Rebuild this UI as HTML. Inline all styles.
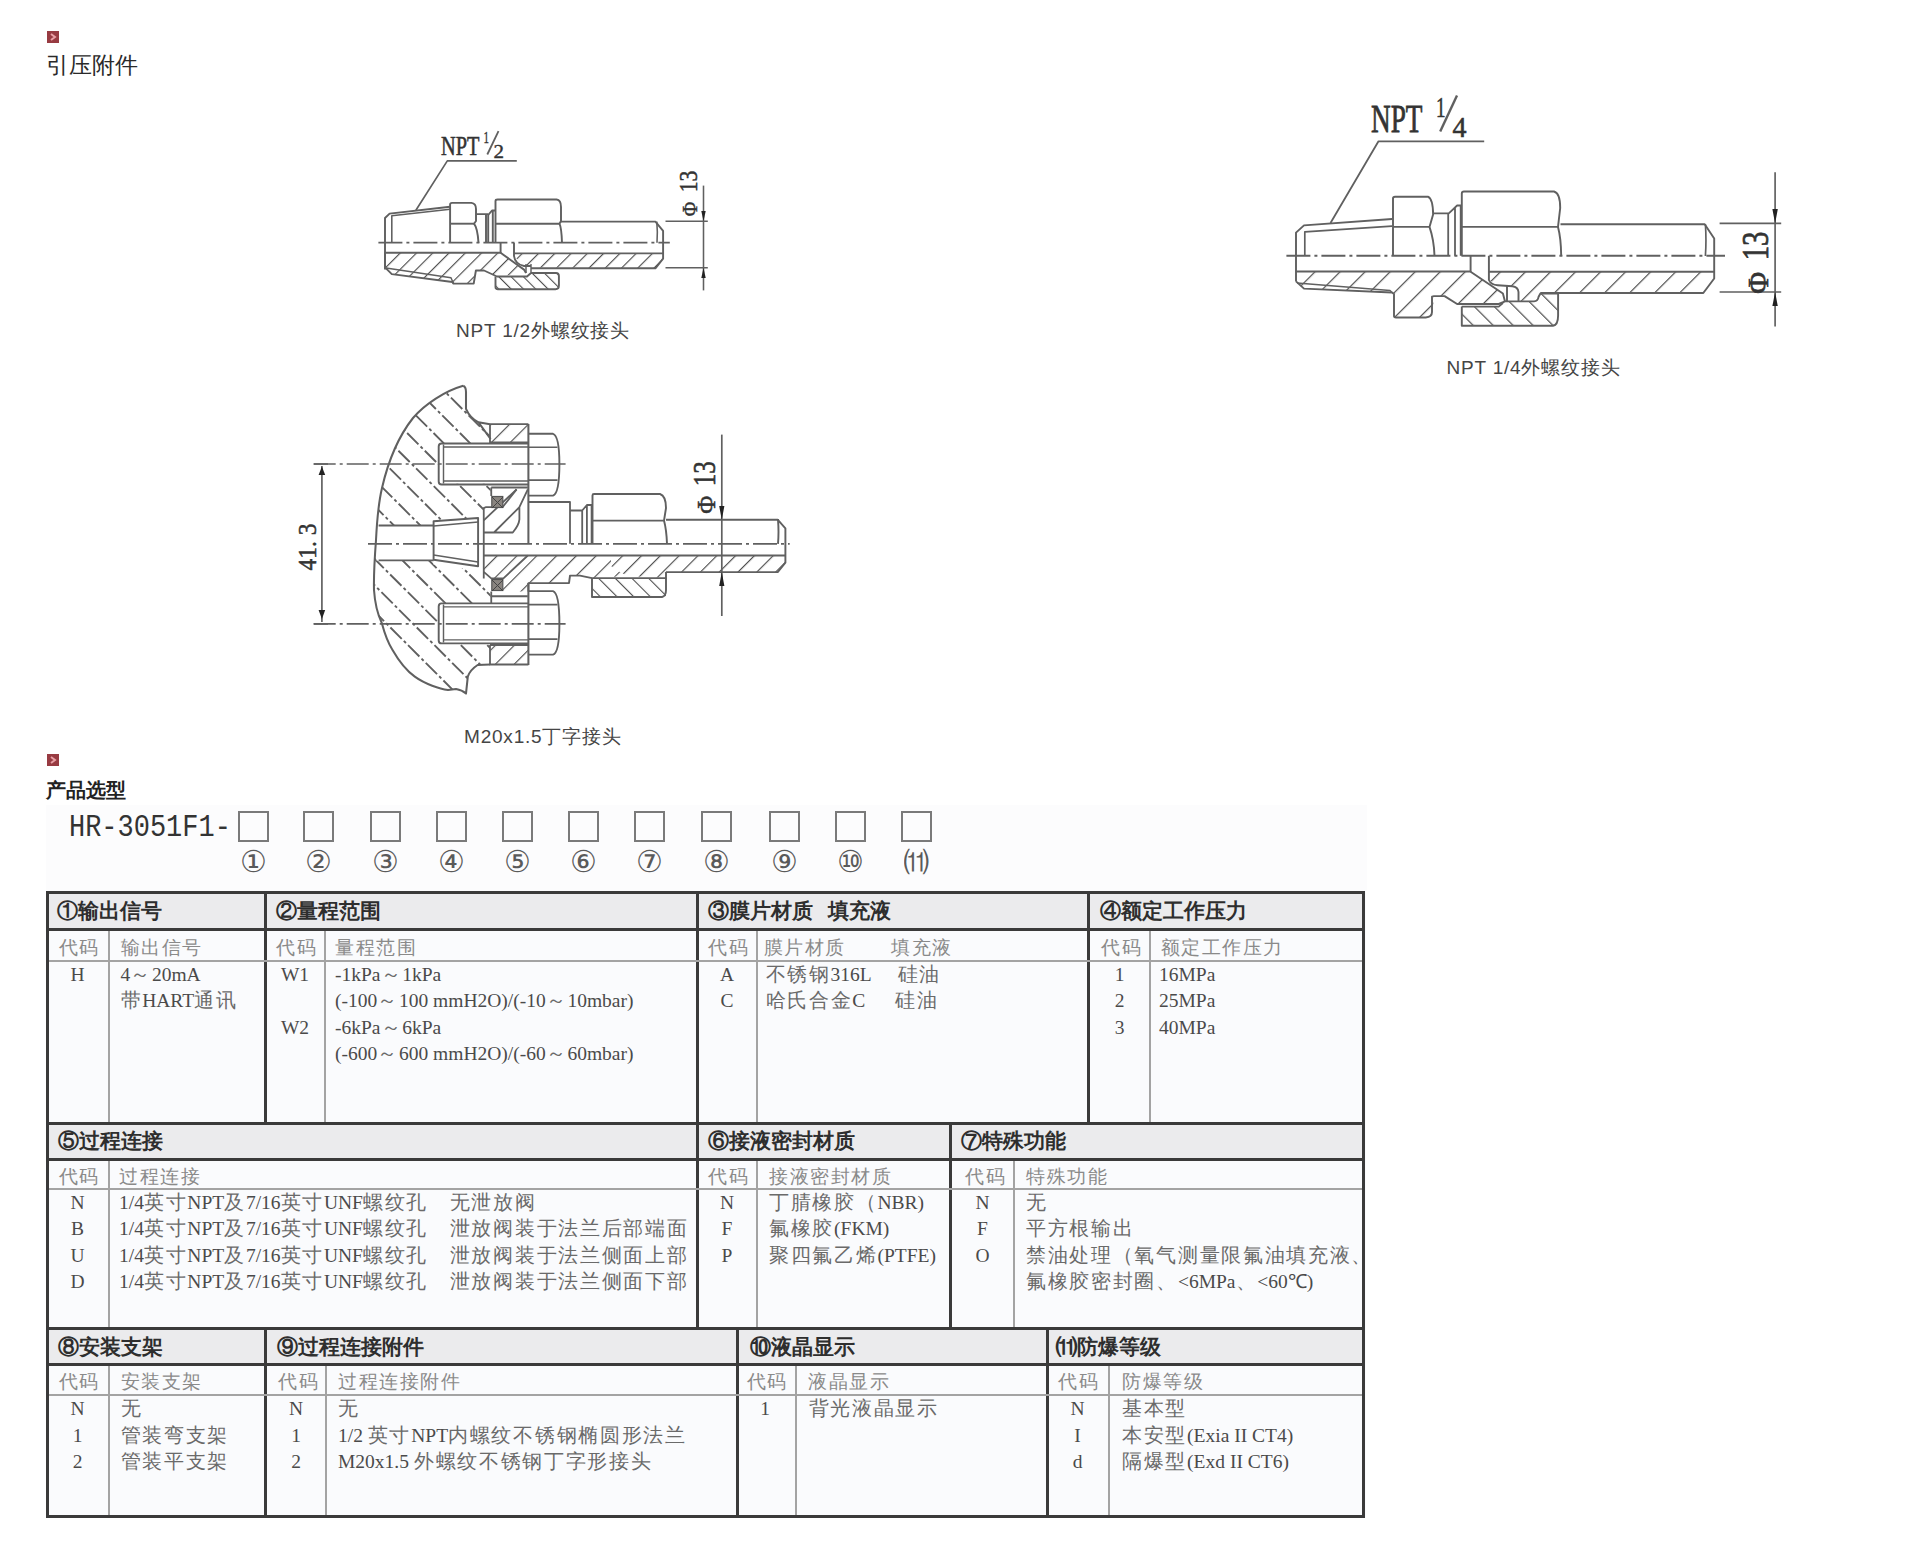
<!DOCTYPE html>
<html><head><meta charset="utf-8"><title>引压附件 产品选型</title><style>
html,body{margin:0;padding:0;background:#fff;}
#pg{position:relative;width:1920px;height:1561px;overflow:hidden;background:#fff;font-family:"Liberation Sans",sans-serif;}
.a{position:absolute;white-space:nowrap;height:0;}
.a>span,.a{}
.c{width:200px;text-align:center;}
.tk{position:absolute;background:#3a3a3a;}
.tn{position:absolute;background:#a3a3a3;}
.hb{position:absolute;background:#ebebed;}
.H{font-family:"Liberation Sans",sans-serif;font-size:20.6px;line-height:0;color:#2e2e2e;font-weight:bold;letter-spacing:0px;}
.S{font-family:"Liberation Serif",serif;font-size:18.5px;line-height:0;color:#8a8a8a;letter-spacing:1.5px;}
.D{font-family:"Liberation Serif",serif;font-size:19.5px;line-height:0;color:#4a4a4a;letter-spacing:0px;}
.cj{letter-spacing:1.7px;color:#6a6a6a;}
.K{font-family:"Liberation Serif",serif;font-size:19.5px;line-height:0;color:#4a4a4a;}
.cap{font-family:"Liberation Sans",sans-serif;font-size:19px;line-height:0;color:#454545;letter-spacing:0.8px;}
.t1{font-family:"Liberation Sans",sans-serif;font-size:22.5px;line-height:0;color:#2a2a2a;}
.t2{font-family:"Liberation Sans",sans-serif;font-size:20px;line-height:0;color:#222;font-weight:bold;}
.hr{font-family:"Liberation Mono",monospace;font-size:31px;line-height:0;color:#333;transform:scaleX(0.87);transform-origin:0 0;}
.box{position:absolute;width:27px;height:27px;border:2px solid #7a7a7a;}
.cn{font-family:"Liberation Serif",serif;font-size:30px;line-height:0;color:#5a5a5a;}
.ic{position:absolute;width:12px;height:12px;background:#983b42;}
</style></head>
<body><div id="pg">
<svg style="position:absolute;left:0;top:0" width="1920" height="1561" viewBox="0 0 1920 1561">
<defs>
<pattern id="h1a" patternUnits="userSpaceOnUse" width="11.5" height="11.5" patternTransform="rotate(45) translate(1.35,0)"><line x1="0" y1="-1" x2="0" y2="12.5" stroke="#4c4c4c" stroke-width="2.28"/></pattern>
<pattern id="h1c" patternUnits="userSpaceOnUse" width="11.5" height="11.5" patternTransform="rotate(45) translate(7.47,0)"><line x1="0" y1="-1" x2="0" y2="12.5" stroke="#4c4c4c" stroke-width="2.28"/></pattern>
<pattern id="h1b" patternUnits="userSpaceOnUse" width="8.7" height="8.7" patternTransform="rotate(-45) translate(8.6,0)"><line x1="0" y1="-1" x2="0" y2="9.7" stroke="#4c4c4c" stroke-width="2.16"/></pattern>
<pattern id="h2a" patternUnits="userSpaceOnUse" width="17.7" height="17.7" patternTransform="rotate(45) translate(13.6,0)"><line x1="0" y1="-1" x2="0" y2="18.7" stroke="#4c4c4c" stroke-width="2.40"/></pattern>
<pattern id="h2b" patternUnits="userSpaceOnUse" width="14.1" height="14.1" patternTransform="rotate(-45) translate(7.3,0)"><line x1="0" y1="-1" x2="0" y2="15.1" stroke="#4c4c4c" stroke-width="2.40"/></pattern>
<pattern id="h2c" patternUnits="userSpaceOnUse" width="17.7" height="17.7" patternTransform="rotate(45) translate(6.35,0)"><line x1="0" y1="-1" x2="0" y2="18.7" stroke="#4c4c4c" stroke-width="2.40"/></pattern>
<pattern id="h3a" patternUnits="userSpaceOnUse" width="13.3" height="13.3" patternTransform="rotate(45) translate(8.1,0)"><line x1="0" y1="-1" x2="0" y2="14.3" stroke="#4c4c4c" stroke-width="2.28"/></pattern>
<pattern id="h3c" patternUnits="userSpaceOnUse" width="14.0" height="14.0" patternTransform="rotate(45) translate(2.0,0)"><line x1="0" y1="-1" x2="0" y2="15.0" stroke="#4c4c4c" stroke-width="2.28"/></pattern>
<pattern id="h3b" patternUnits="userSpaceOnUse" width="11.8" height="11.8" patternTransform="rotate(-45) translate(2,0)"><line x1="0" y1="-1" x2="0" y2="12.8" stroke="#4c4c4c" stroke-width="2.16"/></pattern>
<pattern id="h3f" patternUnits="userSpaceOnUse" width="12.5" height="12.5" patternTransform="rotate(-45) translate(0,0)"><line x1="0" y1="-1" x2="0" y2="13.5" stroke="#4c4c4c" stroke-width="1.80"/></pattern>
</defs>
<path d="M516.8,160.9 H447.3 L415.9,210.2" fill="none" stroke="#606060" stroke-width="1.68" stroke-linejoin="round" />
<text x="441" y="154.7" font-family="Liberation Serif, serif" font-size="26.3" fill="#333" stroke="#333" stroke-width="0.53" text-anchor="start" textLength="38.5" lengthAdjust="spacingAndGlyphs" >NPT</text>
<text x="483.5" y="143" font-family="Liberation Serif, serif" font-size="16" fill="#333" stroke="#333" stroke-width="0.32" text-anchor="start" textLength="5.5" lengthAdjust="spacingAndGlyphs" >1</text>
<path d="M487.3,154.5 L498.5,131.2" fill="none" stroke="#606060" stroke-width="1.7999999999999998" stroke-linejoin="round" />
<text x="493.5" y="157.5" font-family="Liberation Serif, serif" font-size="19.5" fill="#333" stroke="#333" stroke-width="0.39" text-anchor="start" textLength="10.5" lengthAdjust="spacingAndGlyphs" >2</text>
<polygon points="385,252.8 500.6,252.8 524,269.6 526,273 497,276.5 484,270.5 475.9,270.5 473.7,283.6 453.5,283.6 452.4,282 391.8,274.1 385,267.4" fill="url(#h1a)" stroke="none"/>
<polygon points="514,253.4 663.1,253.4 663.1,258.7 655.4,268.3 531,267.6 524,266 514,256" fill="url(#h1c)" stroke="none"/>
<polygon points="497,276.5 527,276.5 531,273 558.9,273 558.9,289.2 495.5,289.2 495.5,276.5" fill="url(#h1b)" stroke="none"/>
<path d="M385,269.6 V218 L389.6,213.6 L450.1,206.8" fill="none" stroke="#606060" stroke-width="1.92" stroke-linejoin="round" />
<path d="M391.8,242.7 V215.8 L450.1,209.2" fill="none" stroke="#606060" stroke-width="1.56" stroke-linejoin="round" />
<path d="M450.1,242.7 V204.6 Q450.1,202.9 452,202.9 H471.4 Q476,203.5 476,209 V221 L474,223.7 Q477.5,228 478.5,242.7" fill="none" stroke="#606060" stroke-width="1.92" stroke-linejoin="round" />
<path d="M450.1,223.7 H474" fill="none" stroke="#606060" stroke-width="1.92" stroke-linejoin="round" />
<path d="M476.5,214.1 H488.2 M486,214.1 V242.7 M488.2,214.1 V242.7" fill="none" stroke="#606060" stroke-width="1.92" stroke-linejoin="round" />
<path d="M488.2,215 L492,210.5 H495.5 M492.8,211 V242.7" fill="none" stroke="#606060" stroke-width="1.92" stroke-linejoin="round" />
<path d="M495.5,242.7 V201 Q495.5,199.5 497.5,199.5 H556.6 Q561,200 561,207 V221 L559.5,223.7 Q561.5,228 562,242.7" fill="none" stroke="#606060" stroke-width="1.92" stroke-linejoin="round" />
<path d="M495.5,223.7 H559.5" fill="none" stroke="#606060" stroke-width="1.92" stroke-linejoin="round" />
<path d="M561,221.6 H655.4 L663.1,230.8 V258.7 L655.4,268.3 H531" fill="none" stroke="#606060" stroke-width="1.92" stroke-linejoin="round" />
<path d="M656.8,221.6 Q657.8,232 657,242.7" fill="none" stroke="#606060" stroke-width="1.56" stroke-linejoin="round" />
<path d="M385,252.8 H500.6 V242.7" fill="none" stroke="#606060" stroke-width="1.92" stroke-linejoin="round" />
<path d="M514,242.7 V256 Q515,264 524,266 H531" fill="none" stroke="#606060" stroke-width="1.92" stroke-linejoin="round" />
<path d="M514,253.4 H663.1" fill="none" stroke="#606060" stroke-width="1.92" stroke-linejoin="round" />
<path d="M500.6,252.8 L524,269.6 L526,273" fill="none" stroke="#606060" stroke-width="1.92" stroke-linejoin="round" />
<path d="M385,252.8 V267.4 L391.8,274.1 L452.4,282 L453.5,283.6 H473.7 L475.9,270.5 H484 L497,276.5 H527 L531,273" fill="none" stroke="#606060" stroke-width="1.92" stroke-linejoin="round" />
<path d="M386,268 L451,277.8 L453.5,283.6" fill="none" stroke="#606060" stroke-width="1.44" stroke-linejoin="round" />
<path d="M495.5,276.5 V287 Q495.5,289.2 498,289.2 H555.5 Q558.9,289.2 558.9,285.5 V276 Q558.9,273 556,273 H531" fill="none" stroke="#606060" stroke-width="1.92" stroke-linejoin="round" />
<path d="M526,264 V273 M531,264 V273" fill="none" stroke="#606060" stroke-width="1.44" stroke-linejoin="round" />
<path d="M378.4,242.7 H669.8" fill="none" stroke="#606060" stroke-width="1.7999999999999998" stroke-linejoin="round" stroke-dasharray="24 4 3 4"/>
<path d="M665.5,221.2 H707.8 M665.5,267.8 H707.8" fill="none" stroke="#606060" stroke-width="1.56" stroke-linejoin="round" />
<path d="M703.5,185.6 V290.4" fill="none" stroke="#606060" stroke-width="1.56" stroke-linejoin="round" />
<polygon points="701.3,211 705.7,211 703.5,221.2" fill="#222"/>
<polygon points="701.3,278 705.7,278 703.5,267.8" fill="#222"/>
<g transform="translate(697.2,216.3) rotate(-90)">
<text x="0" y="0" font-family="Liberation Serif, serif" font-size="20.8" fill="#333" stroke="#333" stroke-width="0.42" text-anchor="start" textLength="14.4" lengthAdjust="spacingAndGlyphs" >Φ</text>
</g>
<g transform="translate(697.2,192.3) rotate(-90)">
<text x="0" y="0" font-family="Liberation Serif, serif" font-size="26" fill="#333" stroke="#333" stroke-width="0.52" text-anchor="start" textLength="21.6" lengthAdjust="spacingAndGlyphs" >13</text>
</g>
<path d="M1484.2,141.3 H1378.5 L1330.5,223" fill="none" stroke="#606060" stroke-width="1.7999999999999998" stroke-linejoin="round" />
<text x="1371" y="131.6" font-family="Liberation Serif, serif" font-size="40" fill="#333" stroke="#333" stroke-width="0.80" text-anchor="start" textLength="51.5" lengthAdjust="spacingAndGlyphs" >NPT</text>
<text x="1436" y="117.2" font-family="Liberation Serif, serif" font-size="29" fill="#333" stroke="#333" stroke-width="0.58" text-anchor="start" textLength="9.5" lengthAdjust="spacingAndGlyphs" >1</text>
<path d="M1440.2,131.6 L1457,95.6" fill="none" stroke="#606060" stroke-width="2.4" stroke-linejoin="round" />
<text x="1452.5" y="136.5" font-family="Liberation Serif, serif" font-size="29" fill="#333" stroke="#333" stroke-width="0.58" text-anchor="start" textLength="14" lengthAdjust="spacingAndGlyphs" >4</text>
<polygon points="1296,271.5 1470.6,271.7 1502.9,293.5 1505,304.5 1457.1,304 1444.6,296.1 1434,296.1 1432,317.5 1394,317.5 1394,294 1392,292.5 1304,288.6 1296,281.4" fill="url(#h2c)" stroke="none"/>
<polygon points="1489,271.7 1714.2,271.7 1714.2,278.5 1703.3,293 1540,293 1534,301.4 1518.5,301.4 1512,286 1497.7,285.2 1489,280" fill="url(#h2a)" stroke="none"/>
<polygon points="1461.8,306.6 1498.75,306.6 1505,301.4 1534,301.4 1540.4,293.5 1558.1,293.5 1558.1,325.8 1461.8,325.8" fill="url(#h2b)" stroke="none"/>
<path d="M1296,281.4 V232.6 L1304,225.4 L1392.1,219" fill="none" stroke="#606060" stroke-width="1.92" stroke-linejoin="round" />
<path d="M1304.8,255.8 V231.8 L1392.1,226.2" fill="none" stroke="#606060" stroke-width="1.68" stroke-linejoin="round" />
<path d="M1393,255.8 V198.5 Q1393,196.7 1395,196.7 H1427.9 Q1433,199 1433.1,214.4 L1429.5,226.9 Q1434,240 1434.5,255.8" fill="none" stroke="#606060" stroke-width="1.92" stroke-linejoin="round" />
<path d="M1393,226.9 H1429.5" fill="none" stroke="#606060" stroke-width="1.92" stroke-linejoin="round" />
<path d="M1433.5,213.3 H1448.8 L1457.1,205.5 H1461.8 M1448.2,213.3 V255.8 M1455,207 V255.8 M1460.7,205.5 V255.8" fill="none" stroke="#606060" stroke-width="1.7999999999999998" stroke-linejoin="round" />
<path d="M1461.8,255.8 V193.5 Q1461.8,191.5 1464,191.5 H1554 Q1560.2,193 1560.2,208 L1558,226.9 Q1561,238 1561.2,255.8" fill="none" stroke="#606060" stroke-width="1.92" stroke-linejoin="round" />
<path d="M1461.8,226.9 H1558" fill="none" stroke="#606060" stroke-width="1.92" stroke-linejoin="round" />
<path d="M1560.5,224.3 H1704.7 L1714.2,238.5 V278.5 L1703.3,293 H1540.4" fill="none" stroke="#606060" stroke-width="1.92" stroke-linejoin="round" />
<path d="M1705.4,224.3 Q1706.5,240 1705.4,256" fill="none" stroke="#606060" stroke-width="1.68" stroke-linejoin="round" />
<path d="M1296,271.5 H1470.6 V255.8" fill="none" stroke="#606060" stroke-width="1.92" stroke-linejoin="round" />
<path d="M1488.9,255.8 V280 Q1491,285 1497.7,285.2 L1512.3,286.25 Q1518,287 1518.5,292 V301.4" fill="none" stroke="#606060" stroke-width="1.92" stroke-linejoin="round" />
<path d="M1489,271.7 H1714.2" fill="none" stroke="#606060" stroke-width="1.92" stroke-linejoin="round" />
<path d="M1470.6,271.7 L1502.9,293.5 L1505,301.4 M1507,286 V301.4" fill="none" stroke="#606060" stroke-width="1.92" stroke-linejoin="round" />
<path d="M1296,281.4 L1304,288.6 L1392,292.5 L1394,294 V316 Q1394,317.5 1396,317.5 H1425.8 Q1432,317 1432,312 V296.7 L1434,296.1 H1444.6 L1457.1,304 H1498.75 L1505,301.4 H1534 Q1538,301 1538.5,297 L1540.4,293.5 H1558.1" fill="none" stroke="#606060" stroke-width="1.92" stroke-linejoin="round" />
<path d="M1297,283 L1390,290.5 L1392,292.5" fill="none" stroke="#606060" stroke-width="1.44" stroke-linejoin="round" />
<path d="M1461.8,306.6 V325.8 H1552.9 Q1558.1,325 1558.1,315.4 V293.5" fill="none" stroke="#606060" stroke-width="1.92" stroke-linejoin="round" />
<path d="M1461.8,306.6 H1498.75 L1503,303" fill="none" stroke="#606060" stroke-width="1.68" stroke-linejoin="round" />
<path d="M1286.4,255.8 H1725" fill="none" stroke="#606060" stroke-width="1.92" stroke-linejoin="round" stroke-dasharray="24 4 3 4"/>
<path d="M1719.6,223.4 H1781.2 M1719.6,292 H1781.2" fill="none" stroke="#606060" stroke-width="1.68" stroke-linejoin="round" />
<path d="M1775.1,172.2 V326.6" fill="none" stroke="#606060" stroke-width="1.68" stroke-linejoin="round" />
<polygon points="1772.4,209 1777.8,209 1775.1,223.4" fill="#222"/>
<polygon points="1772.4,306 1777.8,306 1775.1,292" fill="#222"/>
<g transform="translate(1767.8,293.8) rotate(-90)">
<text x="0" y="0" font-family="Liberation Serif, serif" font-size="30.400000000000002" fill="#333" stroke="#333" stroke-width="0.61" text-anchor="start" textLength="21.8" lengthAdjust="spacingAndGlyphs" >Φ</text>
</g>
<g transform="translate(1767.8,260.3) rotate(-90)">
<text x="0" y="0" font-family="Liberation Serif, serif" font-size="38" fill="#333" stroke="#333" stroke-width="0.76" text-anchor="start" textLength="28.8" lengthAdjust="spacingAndGlyphs" >13</text>
</g>
<clipPath id="fl3"><path d="M463.2,385.8 C445,391 425,404 413,418 C398,437 388,462 382,488 C378,505 377,520 376,540 C374.5,560 373.6,575 374,590 C375,605 378,615 381.7,622.8 C385,635 388,643 392.4,649.7 C400,663 407,671 414.8,676.6 C425,684 440,689 448,690 L456,689 Q462,690 466,693.6 L467.8,676.6 Q470,670 477.6,665 L490,664.5 V643.4 H441.6 Q438.7,643.4 438.7,640 V606 Q438.7,603.4 441.6,603.4 H490.6 V578.4 H483.4 L480.5,570.6 L433.4,564.5 V560.4 H376.5 V525.5 H433.4 V521.2 L480.5,517.4 L483.4,507.8 H490.6 V483.7 H441.6 Q438.2,483.7 438.2,480 V447.5 Q438.2,443.9 441.6,443.9 H490 V424.2 L478.5,422.3 Q470,418 466,408.8 V392 Q466,387 463.2,385.8 Z"/></clipPath>
<g clip-path="url(#fl3)">
<line x1="63.7" y1="380" x2="393.7" y2="710" stroke="#606060" stroke-width="1.9" stroke-dasharray="16 3 3 3"/>
<line x1="90.1" y1="380" x2="420.1" y2="710" stroke="#606060" stroke-width="1.9" stroke-dasharray="16 3 3 3"/>
<line x1="116.5" y1="380" x2="446.5" y2="710" stroke="#606060" stroke-width="1.9" stroke-dasharray="16 3 3 3"/>
<line x1="142.9" y1="380" x2="472.9" y2="710" stroke="#606060" stroke-width="1.9" stroke-dasharray="16 3 3 3"/>
<line x1="169.3" y1="380" x2="499.3" y2="710" stroke="#606060" stroke-width="1.9" stroke-dasharray="16 3 3 3"/>
<line x1="195.7" y1="380" x2="525.7" y2="710" stroke="#606060" stroke-width="1.9" stroke-dasharray="16 3 3 3"/>
<line x1="222.1" y1="380" x2="552.1" y2="710" stroke="#606060" stroke-width="1.9" stroke-dasharray="16 3 3 3"/>
<line x1="248.5" y1="380" x2="578.5" y2="710" stroke="#606060" stroke-width="1.9" stroke-dasharray="16 3 3 3"/>
<line x1="274.9" y1="380" x2="604.9" y2="710" stroke="#606060" stroke-width="1.9" stroke-dasharray="16 3 3 3"/>
<line x1="301.3" y1="380" x2="631.3" y2="710" stroke="#606060" stroke-width="1.9" stroke-dasharray="16 3 3 3"/>
<line x1="327.7" y1="380" x2="657.7" y2="710" stroke="#606060" stroke-width="1.9" stroke-dasharray="16 3 3 3"/>
<line x1="354.1" y1="380" x2="684.1" y2="710" stroke="#606060" stroke-width="1.9" stroke-dasharray="16 3 3 3"/>
<line x1="380.5" y1="380" x2="710.5" y2="710" stroke="#606060" stroke-width="1.9" stroke-dasharray="16 3 3 3"/>
<line x1="406.9" y1="380" x2="736.9" y2="710" stroke="#606060" stroke-width="1.9" stroke-dasharray="16 3 3 3"/>
<line x1="433.3" y1="380" x2="763.3" y2="710" stroke="#606060" stroke-width="1.9" stroke-dasharray="16 3 3 3"/>
<line x1="459.7" y1="380" x2="789.7" y2="710" stroke="#606060" stroke-width="1.9" stroke-dasharray="16 3 3 3"/>
<line x1="486.1" y1="380" x2="816.1" y2="710" stroke="#606060" stroke-width="1.9" stroke-dasharray="16 3 3 3"/>
<line x1="512.5" y1="380" x2="842.5" y2="710" stroke="#606060" stroke-width="1.9" stroke-dasharray="16 3 3 3"/>
<line x1="538.9" y1="380" x2="868.9" y2="710" stroke="#606060" stroke-width="1.9" stroke-dasharray="16 3 3 3"/>
<line x1="565.3" y1="380" x2="895.3" y2="710" stroke="#606060" stroke-width="1.9" stroke-dasharray="16 3 3 3"/>
<line x1="591.7" y1="380" x2="921.7" y2="710" stroke="#606060" stroke-width="1.9" stroke-dasharray="16 3 3 3"/>
<line x1="618.1" y1="380" x2="948.1" y2="710" stroke="#606060" stroke-width="1.9" stroke-dasharray="16 3 3 3"/>
<line x1="644.5" y1="380" x2="974.5" y2="710" stroke="#606060" stroke-width="1.9" stroke-dasharray="16 3 3 3"/>
<line x1="670.9" y1="380" x2="1000.9" y2="710" stroke="#606060" stroke-width="1.9" stroke-dasharray="16 3 3 3"/>
</g>
<polygon points="490,424.2 528.4,424.2 528.4,442.4 490,442.4" fill="url(#h3a)" stroke="none"/>
<polygon points="490,645 528.4,645 528.4,664.5 490,664.5" fill="url(#h3a)" stroke="none"/>
<polygon points="483.75,555.5 611,555.5 611,566 618,571 628,576 592,578.1 580,575.6 570,575.6 569,583.1 527.8,583.1 527.8,591.6 503.4,591.6 491.25,578.4 483.75,578.4" fill="url(#h3c)" stroke="none"/>
<polygon points="611,555.5 785.4,555.5 785.4,562.7 777.7,572.1 666,572.1 666,578.1 628,576 618,571 611,566" fill="url(#h3a)" stroke="none"/>
<polygon points="592,578.1 666,578.1 666,597 592,597" fill="url(#h3b)" stroke="none"/>
<path d="M463.2,385.8 C445,391 425,404 413,418 C398,437 388,462 382,488 C378,505 377,520 376,540 C374.5,560 373.6,575 374,590 C375,605 378,615 381.7,622.8 C385,635 388,643 392.4,649.7 C400,663 407,671 414.8,676.6 C425,684 440,689 448,690 L456,689 Q462,690 466,693.6 L467.8,676.6 Q470,670 477.6,665 L490,664.5" fill="none" stroke="#606060" stroke-width="2.04" stroke-linejoin="round" />
<path d="M463.2,385.8 Q466,387 466,392 V408.8 Q470,418 478.5,422.3 L490,424.2 M478.5,422.3 L490.6,439" fill="none" stroke="#606060" stroke-width="2.04" stroke-linejoin="round" />
<path d="M490,424.2 H528.4 M490,424.2 V442.4 H528.4 M490,664.5 H528.4 M490,645 V664.5 H528.4 M490,645 H528.4" fill="none" stroke="#606060" stroke-width="1.7999999999999998" stroke-linejoin="round" />
<path d="M528.4,424 V543.8 M528.4,583 V664.9" fill="none" stroke="#606060" stroke-width="2.04" stroke-linejoin="round" />
<path d="M528.4,443.5 H441.6 Q438.7,443.5 438.7,446.5 V481.5 Q438.7,484.5 441.6,484.5 H528.4" fill="none" stroke="#606060" stroke-width="1.92" stroke-linejoin="round" />
<path d="M443.5,444.5 V483.5 M444,447.0 H528.4 M444,481.0 H528.4" fill="none" stroke="#606060" stroke-width="1.44" stroke-linejoin="round" />
<path d="M528.4,433.8 H553 Q559.4,435.8 559.4,464 Q559.4,493.6 553,495.6 H528.4" fill="none" stroke="#606060" stroke-width="1.92" stroke-linejoin="round" />
<path d="M528.4,447.3 H557.5 M528.4,480.1 H557.5" fill="none" stroke="#606060" stroke-width="1.56" stroke-linejoin="round" />
<path d="M313.7,464 H565.6" fill="none" stroke="#606060" stroke-width="1.68" stroke-linejoin="round" stroke-dasharray="22 4 3 4"/>
<path d="M528.4,603.4 H441.6 Q438.7,603.4 438.7,606.4 V640.4 Q438.7,643.4 441.6,643.4 H528.4" fill="none" stroke="#606060" stroke-width="1.92" stroke-linejoin="round" />
<path d="M443.5,604.4 V642.4 M444,606.9 H528.4 M444,639.9 H528.4" fill="none" stroke="#606060" stroke-width="1.44" stroke-linejoin="round" />
<path d="M528.4,591.1 H553 Q559.4,593.1 559.4,623.9 Q559.4,652.6 553,654.6 H528.4" fill="none" stroke="#606060" stroke-width="1.92" stroke-linejoin="round" />
<path d="M528.4,604.6 H557.5 M528.4,639.1 H557.5" fill="none" stroke="#606060" stroke-width="1.56" stroke-linejoin="round" />
<path d="M313.7,623.9 H565.6" fill="none" stroke="#606060" stroke-width="1.68" stroke-linejoin="round" stroke-dasharray="22 4 3 4"/>
<path d="M378.6,525.5 H433.6 M378.6,560.4 H433.6" fill="none" stroke="#606060" stroke-width="1.92" stroke-linejoin="round" />
<path d="M433.6,521.25 L478.1,518 V566.25 L433.6,559.7 Z" fill="none" stroke="#606060" stroke-width="1.92" stroke-linejoin="round" />
<path d="M433.6,526 L478.1,522 M433.6,555 L478.1,562" fill="none" stroke="#606060" stroke-width="1.44" stroke-linejoin="round" />
<path d="M483.75,578.4 V508.1 L485.6,507.2 H502.5 L516.6,489.4 M491.25,487.5 H527.8 M491.25,487.5 V496" fill="none" stroke="#606060" stroke-width="1.7999999999999998" stroke-linejoin="round" />
<path d="M483.75,520.3 L516.6,489.4 M494,532.5 L519.4,507.2 M483.75,532.5 H512.8 Q519,525 519.4,519.4 V507.2 L527.8,489.4" fill="none" stroke="#606060" stroke-width="1.7999999999999998" stroke-linejoin="round" />
<path d="M483.75,571.9 L491.25,578.4 H503.4 L527.8,555.5 M491.25,591.6 V603.4 M491.25,596.25 H527.8" fill="none" stroke="#606060" stroke-width="1.7999999999999998" stroke-linejoin="round" />
<rect x="491.8" y="496.5" width="11" height="11" fill="#8a8580" stroke="#555" stroke-width="1.2"/>
<rect x="491.8" y="579.5" width="11" height="11" fill="#8a8580" stroke="#555" stroke-width="1.2"/>
<path d="M492,497 L503,508 M503,497 L492,508 M492,580 L503,591 M503,580 L492,591" stroke="#444" stroke-width="1"/>
<path d="M528.4,502 H570 V543.8 M570,510.5 H582.2 L586.9,505 H592.5 M582.2,510.5 V543.8 M586.9,505 V543.8 M591.6,505 V543.8" fill="none" stroke="#606060" stroke-width="1.7999999999999998" stroke-linejoin="round" />
<path d="M592.5,543.8 V495.5 Q592.5,494 594,494 H660 Q666,496 666,508 L664,520.6 Q666.5,530 667,543.8 M592.5,520.6 H664" fill="none" stroke="#606060" stroke-width="1.92" stroke-linejoin="round" />
<path d="M666,519.7 H777.7 L785.4,528.3 V562.7 L777.7,572.1 H666 M778,519.7 Q779,532 778,543.8" fill="none" stroke="#606060" stroke-width="1.92" stroke-linejoin="round" />
<path d="M483.75,555.5 H785.4" fill="none" stroke="#606060" stroke-width="1.92" stroke-linejoin="round" />
<path d="M527.8,583.1 H569 L570,575.6 H580 L592,578.1 H666 V572.1" fill="none" stroke="#606060" stroke-width="1.92" stroke-linejoin="round" />
<path d="M592,578.1 V597 H662 Q666,596 666,590 V578.1" fill="none" stroke="#606060" stroke-width="1.92" stroke-linejoin="round" />
<path d="M528.4,591.6 V583.1" fill="none" stroke="#606060" stroke-width="1.7999999999999998" stroke-linejoin="round" />
<path d="M368,543.8 H789.7" fill="none" stroke="#606060" stroke-width="1.7999999999999998" stroke-linejoin="round" stroke-dasharray="24 4 3 4"/>
<path d="M321.9,466 V622" fill="none" stroke="#606060" stroke-width="1.68" stroke-linejoin="round" />
<polygon points="318.6,475 325.2,475 321.9,466.5" fill="#222"/>
<polygon points="318.6,610 325.2,610 321.9,619" fill="#222"/>
<path d="M313.7,464 H328 M313.7,623.9 H328" fill="none" stroke="#606060" stroke-width="1.68" stroke-linejoin="round" />
<g transform="translate(315.5,570.6) rotate(-90)">
<text x="0" y="0" font-family="Liberation Serif, serif" font-size="26" fill="#333" stroke="#333" stroke-width="0.52" text-anchor="start" textLength="47" lengthAdjust="spacingAndGlyphs" >41. 3</text>
</g>
<path d="M721.8,434.6 V616" fill="none" stroke="#606060" stroke-width="1.68" stroke-linejoin="round" />
<polygon points="719.2,506 724.4,506 721.8,519.7" fill="#222"/>
<polygon points="719.2,586 724.4,586 721.8,572.1" fill="#222"/>
<g transform="translate(714.5,513.7) rotate(-90)">
<text x="0" y="0" font-family="Liberation Serif, serif" font-size="24.8" fill="#333" stroke="#333" stroke-width="0.50" text-anchor="start" textLength="18.1" lengthAdjust="spacingAndGlyphs" >Φ</text>
</g>
<g transform="translate(714.5,486.2) rotate(-90)">
<text x="0" y="0" font-family="Liberation Serif, serif" font-size="31" fill="#333" stroke="#333" stroke-width="0.62" text-anchor="start" textLength="24.9" lengthAdjust="spacingAndGlyphs" >13</text>
</g>
</svg>
<div class="ic" style="left:47px;top:31px"></div>
<svg style="position:absolute;left:47px;top:31px" width="12" height="12"><path d="M4 3 L8 6 L4 9" stroke="#e9a0a6" stroke-width="2" fill="none"/></svg>
<div class="a t1" style="left:46.0px;top:65.5px;">引压附件</div>
<div class="ic" style="left:47px;top:754px"></div>
<svg style="position:absolute;left:47px;top:754px" width="12" height="12"><path d="M4 3 L8 6 L4 9" stroke="#e9a0a6" stroke-width="2" fill="none"/></svg>
<div class="a t2" style="left:45.5px;top:790.0px;">产品选型</div>
<div class="a cap" style="left:456.0px;top:331.0px;">NPT 1/2外螺纹接头</div>
<div class="a cap" style="left:1446.5px;top:368.0px;">NPT 1/4外螺纹接头</div>
<div class="a cap" style="left:464.0px;top:737.0px;">M20x1.5丁字接头</div>
<div style="position:absolute;left:46px;top:805px;width:1321px;height:86px;background:#fcfcfd"></div>
<div class="a hr" style="left:69.0px;top:828.0px;">HR-3051F1-</div>
<div class="box" style="left:237.5px;top:811px"></div>
<div class="a cn c" style="left:153.0px;top:861.7px;">①</div>
<div class="box" style="left:303.3px;top:811px"></div>
<div class="a cn c" style="left:218.8px;top:861.7px;">②</div>
<div class="box" style="left:369.7px;top:811px"></div>
<div class="a cn c" style="left:285.2px;top:861.7px;">③</div>
<div class="box" style="left:435.8px;top:811px"></div>
<div class="a cn c" style="left:351.3px;top:861.7px;">④</div>
<div class="box" style="left:501.7px;top:811px"></div>
<div class="a cn c" style="left:417.2px;top:861.7px;">⑤</div>
<div class="box" style="left:568.0px;top:811px"></div>
<div class="a cn c" style="left:483.5px;top:861.7px;">⑥</div>
<div class="box" style="left:634.2px;top:811px"></div>
<div class="a cn c" style="left:549.7px;top:861.7px;">⑦</div>
<div class="box" style="left:700.8px;top:811px"></div>
<div class="a cn c" style="left:616.3px;top:861.7px;">⑧</div>
<div class="box" style="left:768.7px;top:811px"></div>
<div class="a cn c" style="left:684.2px;top:861.7px;">⑨</div>
<div class="box" style="left:835.3px;top:811px"></div>
<div class="a cn c" style="left:750.8px;top:861.7px;">⑩</div>
<div class="box" style="left:901.2px;top:811px"></div>
<div class="a cn c" style="left:816.7px;top:861.7px;font-size:25px;transform:scaleY(1.1);">⑾</div>
<div style="position:absolute;left:46px;top:891px;width:1320px;height:627px;background:#fafbfd"></div>
<div class="hb" style="left:49px;top:894px;width:1313px;height:34px"></div>
<div class="hb" style="left:49px;top:1125px;width:1313px;height:33px"></div>
<div class="hb" style="left:49px;top:1330px;width:1313px;height:33px"></div>
<div class="tk" style="left:46px;top:891px;width:1319px;height:3px"></div>
<div class="tk" style="left:46px;top:928px;width:1319px;height:3px"></div>
<div class="tk" style="left:46px;top:1122px;width:1319px;height:3px"></div>
<div class="tk" style="left:46px;top:1158px;width:1319px;height:3px"></div>
<div class="tk" style="left:46px;top:1327px;width:1319px;height:3px"></div>
<div class="tk" style="left:46px;top:1363px;width:1319px;height:3px"></div>
<div class="tk" style="left:46px;top:1515px;width:1319px;height:3px"></div>
<div class="tk" style="left:46px;top:891px;width:3px;height:627px"></div>
<div class="tk" style="left:1362px;top:891px;width:3px;height:627px"></div>
<div class="tk" style="left:264px;top:891px;width:3px;height:234px"></div>
<div class="tk" style="left:696px;top:891px;width:3px;height:234px"></div>
<div class="tk" style="left:1087px;top:891px;width:3px;height:234px"></div>
<div class="tk" style="left:696px;top:1122px;width:3px;height:208px"></div>
<div class="tk" style="left:949px;top:1122px;width:3px;height:208px"></div>
<div class="tk" style="left:264px;top:1327px;width:3px;height:191px"></div>
<div class="tk" style="left:736px;top:1327px;width:3px;height:191px"></div>
<div class="tk" style="left:1046px;top:1327px;width:3px;height:191px"></div>
<div class="tn" style="left:49px;top:960px;width:1313px;height:2px"></div>
<div class="tn" style="left:49px;top:1188px;width:1313px;height:2px"></div>
<div class="tn" style="left:49px;top:1394px;width:1313px;height:2px"></div>
<div class="tn" style="left:108px;top:931px;width:2px;height:191px"></div>
<div class="tn" style="left:324px;top:931px;width:2px;height:191px"></div>
<div class="tn" style="left:756px;top:931px;width:2px;height:191px"></div>
<div class="tn" style="left:1149px;top:931px;width:2px;height:191px"></div>
<div class="tn" style="left:108px;top:1161px;width:2px;height:166px"></div>
<div class="tn" style="left:756px;top:1161px;width:2px;height:166px"></div>
<div class="tn" style="left:1013px;top:1161px;width:2px;height:166px"></div>
<div class="tn" style="left:108px;top:1366px;width:2px;height:149px"></div>
<div class="tn" style="left:325px;top:1366px;width:2px;height:149px"></div>
<div class="tn" style="left:795px;top:1366px;width:2px;height:149px"></div>
<div class="tn" style="left:1108px;top:1366px;width:2px;height:149px"></div>
<div class="a H" style="left:57.0px;top:911.0px;">①输出信号</div>
<div class="a H" style="left:276.0px;top:911.0px;">②量程范围</div>
<div class="a H" style="left:708.0px;top:911.0px;">③膜片材质</div>
<div class="a H" style="left:828.0px;top:911.0px;">填充液</div>
<div class="a H" style="left:1099.5px;top:911.0px;">④额定工作压力</div>
<div class="a S" style="left:58.5px;top:948.0px;">代码</div>
<div class="a S" style="left:120.5px;top:948.0px;">输出信号</div>
<div class="a S" style="left:276.0px;top:948.0px;">代码</div>
<div class="a S" style="left:335.0px;top:948.0px;">量程范围</div>
<div class="a S" style="left:708.0px;top:948.0px;">代码</div>
<div class="a S" style="left:763.5px;top:948.0px;">膜片材质</div>
<div class="a S" style="left:891.0px;top:948.0px;">填充液</div>
<div class="a S" style="left:1101.0px;top:948.0px;">代码</div>
<div class="a S" style="left:1160.5px;top:948.0px;">额定工作压力</div>
<div class="a K c" style="left:-22.5px;top:974.8px;">H</div>
<div class="a D" style="left:120.5px;top:974.8px;">4<span class="cj">～</span>20mA</div>
<div class="a D" style="left:120.5px;top:1001.2px;"><span class="cj">带</span>HART<span class="cj">通讯</span></div>
<div class="a K c" style="left:195.0px;top:974.8px;">W1</div>
<div class="a K c" style="left:195.0px;top:1027.6px;">W2</div>
<div class="a D" style="left:335.0px;top:974.8px;">-1kPa<span class="cj">～</span>1kPa</div>
<div class="a D" style="left:335.0px;top:1001.2px;">(-100<span class="cj">～</span>100 mmH2O)/(-10<span class="cj">～</span>10mbar)</div>
<div class="a D" style="left:335.0px;top:1027.6px;">-6kPa<span class="cj">～</span>6kPa</div>
<div class="a D" style="left:335.0px;top:1054.0px;">(-600<span class="cj">～</span>600 mmH2O)/(-60<span class="cj">～</span>60mbar)</div>
<div class="a K c" style="left:627.0px;top:974.8px;">A</div>
<div class="a K c" style="left:627.0px;top:1001.2px;">C</div>
<div class="a D" style="left:765.5px;top:974.8px;"><span class="cj">不锈钢</span>316L</div>
<div class="a D" style="left:897.5px;top:974.8px;"><span class="cj">硅油</span></div>
<div class="a D" style="left:765.5px;top:1001.2px;"><span class="cj">哈氏合金</span>C</div>
<div class="a D" style="left:895.0px;top:1001.2px;"><span class="cj">硅油</span></div>
<div class="a K c" style="left:1019.5px;top:974.8px;">1</div>
<div class="a D" style="left:1159.0px;top:974.8px;">16MPa</div>
<div class="a K c" style="left:1019.5px;top:1001.2px;">2</div>
<div class="a D" style="left:1159.0px;top:1001.2px;">25MPa</div>
<div class="a K c" style="left:1019.5px;top:1027.6px;">3</div>
<div class="a D" style="left:1159.0px;top:1027.6px;">40MPa</div>
<div class="a H" style="left:58.0px;top:1140.6px;">⑤过程连接</div>
<div class="a H" style="left:708.0px;top:1140.6px;">⑥接液密封材质</div>
<div class="a H" style="left:961.0px;top:1140.6px;">⑦特殊功能</div>
<div class="a S" style="left:58.5px;top:1177.0px;">代码</div>
<div class="a S" style="left:119.0px;top:1177.0px;">过程连接</div>
<div class="a S" style="left:708.0px;top:1177.0px;">代码</div>
<div class="a S" style="left:769.0px;top:1177.0px;">接液密封材质</div>
<div class="a S" style="left:965.0px;top:1177.0px;">代码</div>
<div class="a S" style="left:1026.0px;top:1177.0px;">特殊功能</div>
<div class="a K c" style="left:-22.5px;top:1203.0px;">N</div>
<div class="a D" style="left:119.0px;top:1203.0px;">1/4<span class="cj">英寸</span>NPT<span class="cj">及</span>7/16<span class="cj">英寸</span>UNF<span class="cj">螺纹孔　无泄放阀</span></div>
<div class="a K c" style="left:-22.5px;top:1229.4px;">B</div>
<div class="a D" style="left:119.0px;top:1229.4px;">1/4<span class="cj">英寸</span>NPT<span class="cj">及</span>7/16<span class="cj">英寸</span>UNF<span class="cj">螺纹孔　泄放阀装于法兰后部端面</span></div>
<div class="a K c" style="left:-22.5px;top:1255.8px;">U</div>
<div class="a D" style="left:119.0px;top:1255.8px;">1/4<span class="cj">英寸</span>NPT<span class="cj">及</span>7/16<span class="cj">英寸</span>UNF<span class="cj">螺纹孔　泄放阀装于法兰侧面上部</span></div>
<div class="a K c" style="left:-22.5px;top:1282.2px;">D</div>
<div class="a D" style="left:119.0px;top:1282.2px;">1/4<span class="cj">英寸</span>NPT<span class="cj">及</span>7/16<span class="cj">英寸</span>UNF<span class="cj">螺纹孔　泄放阀装于法兰侧面下部</span></div>
<div class="a K c" style="left:627.0px;top:1203.0px;">N</div>
<div class="a D" style="left:769.0px;top:1203.0px;"><span class="cj">丁腈橡胶（</span>NBR)</div>
<div class="a K c" style="left:627.0px;top:1229.4px;">F</div>
<div class="a D" style="left:769.0px;top:1229.4px;"><span class="cj">氟橡胶</span>(FKM)</div>
<div class="a K c" style="left:627.0px;top:1255.8px;">P</div>
<div class="a D" style="left:769.0px;top:1255.8px;"><span class="cj">聚四氟乙烯</span>(PTFE)</div>
<div class="a K c" style="left:882.5px;top:1203.0px;">N</div>
<div class="a D" style="left:1026.0px;top:1203.0px;"><span class="cj">无</span></div>
<div class="a K c" style="left:882.5px;top:1229.4px;">F</div>
<div class="a D" style="left:1026.0px;top:1229.4px;"><span class="cj">平方根输出</span></div>
<div class="a K c" style="left:882.5px;top:1255.8px;">O</div>
<div class="a D" style="left:1026.0px;top:1255.8px;"><span class="cj">禁油处理（氧气测量限氟油填充液、</span></div>
<div class="a D" style="left:1026.0px;top:1282.2px;"><span class="cj">氟橡胶密封圈、</span>&lt;6MPa<span class="cj">、</span>&lt;60℃)</div>
<div class="a H" style="left:57.5px;top:1347.0px;">⑧安装支架</div>
<div class="a H" style="left:276.5px;top:1347.0px;">⑨过程连接附件</div>
<div class="a H" style="left:750.0px;top:1347.0px;">⑩液晶显示</div>
<div class="a H" style="left:1055.5px;top:1347.0px;">⑾防爆等级</div>
<div class="a S" style="left:58.5px;top:1381.5px;">代码</div>
<div class="a S" style="left:120.5px;top:1381.5px;">安装支架</div>
<div class="a S" style="left:278.0px;top:1381.5px;">代码</div>
<div class="a S" style="left:338.0px;top:1381.5px;">过程连接附件</div>
<div class="a S" style="left:746.5px;top:1381.5px;">代码</div>
<div class="a S" style="left:808.0px;top:1381.5px;">液晶显示</div>
<div class="a S" style="left:1058.0px;top:1381.5px;">代码</div>
<div class="a S" style="left:1122.0px;top:1381.5px;">防爆等级</div>
<div class="a K c" style="left:-22.5px;top:1409.4px;">N</div>
<div class="a D" style="left:120.5px;top:1409.4px;"><span class="cj">无</span></div>
<div class="a K c" style="left:-22.5px;top:1435.8px;">1</div>
<div class="a D" style="left:120.5px;top:1435.8px;"><span class="cj">管装弯支架</span></div>
<div class="a K c" style="left:-22.5px;top:1462.2px;">2</div>
<div class="a D" style="left:120.5px;top:1462.2px;"><span class="cj">管装平支架</span></div>
<div class="a K c" style="left:196.0px;top:1409.4px;">N</div>
<div class="a D" style="left:338.0px;top:1409.4px;"><span class="cj">无</span></div>
<div class="a K c" style="left:196.0px;top:1435.8px;">1</div>
<div class="a D" style="left:338.0px;top:1435.8px;">1/2 <span class="cj">英寸</span>NPT<span class="cj">内螺纹不锈钢椭圆形法兰</span></div>
<div class="a K c" style="left:196.0px;top:1462.2px;">2</div>
<div class="a D" style="left:338.0px;top:1462.2px;">M20x1.5 <span class="cj">外螺纹不锈钢丁字形接头</span></div>
<div class="a K c" style="left:665.0px;top:1409.4px;">1</div>
<div class="a D" style="left:808.5px;top:1409.4px;"><span class="cj">背光液晶显示</span></div>
<div class="a K c" style="left:977.5px;top:1409.4px;">N</div>
<div class="a D" style="left:1122.0px;top:1409.4px;"><span class="cj">基本型</span></div>
<div class="a K c" style="left:977.5px;top:1435.8px;">I</div>
<div class="a D" style="left:1122.0px;top:1435.8px;"><span class="cj">本安型</span>(Exia II CT4)</div>
<div class="a K c" style="left:977.5px;top:1462.2px;">d</div>
<div class="a D" style="left:1122.0px;top:1462.2px;"><span class="cj">隔爆型</span>(Exd II CT6)</div>
</div></body></html>
